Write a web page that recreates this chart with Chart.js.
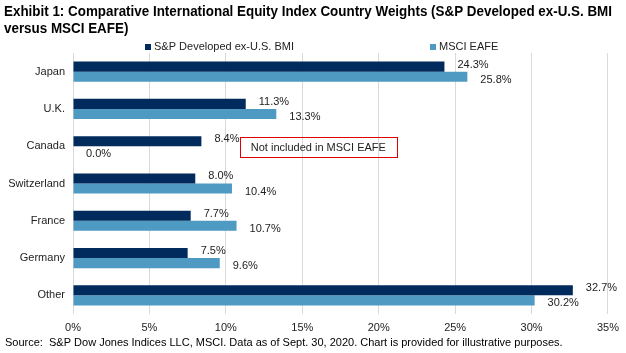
<!DOCTYPE html>
<html>
<head>
<meta charset="utf-8">
<script src="https://cdn.jsdelivr.net/npm/chart.js@4"></script>
<style>
  html, body { margin: 0; padding: 0; background: #fff; }
  #wrap { width: 626px; height: 353px; position: relative; }
</style>
</head>
<body>
<div id="wrap"><canvas id="myChart" width="626" height="353"></canvas></div>
<script>
const countries = ["Japan", "U.K.", "Canada", "Switzerland", "France", "Germany", "Other"];
const spBmi = [24.3, 11.3, 8.4, 8.0, 7.7, 7.5, 32.7];
const msciEafe = [25.8, 13.3, 0.0, 10.4, 10.7, 9.6, 30.2];
const seriesNames = ["S&P Developed ex-U.S. BMI", "MSCI EAFE"];
const xTicks = [0, 5, 10, 15, 20, 25, 30, 35];

const titleLines = [
  "Exhibit 1: Comparative International Equity Index Country Weights (S&P Developed ex-U.S. BMI",
  "versus MSCI EAFE)"
];
const sourceText = "Source:  S&P Dow Jones Indices LLC, MSCI. Data as of Sept. 30, 2020. Chart is provided for illustrative purposes.";
const noteText = "Not included in MSCI EAFE";

const FONT = "Arial, 'Liberation Sans', sans-serif";
const DARK = "#002b5c";
const LIGHT = "#4f9ac3";

// draws text squeezed to a given width (the original uses a narrow face)
function fitText(ctx, text, x, y, width) {
  const w = ctx.measureText(text).width;
  const s = width ? Math.min(1, width / w) : 1;
  ctx.save();
  ctx.translate(x, y);
  ctx.scale(s, 1);
  ctx.fillText(text, 0, 0);
  ctx.restore();
}

const decorations = {
  id: "decorations",
  afterDraw(chart) {
    const ctx = chart.ctx;
    const x = chart.scales.x;
    const y = chart.scales.y;
    ctx.save();

    // title
    ctx.fillStyle = "#000";
    ctx.textBaseline = "alphabetic";
    ctx.font = "bold 14px " + FONT;
    const scaleW = 608 / ctx.measureText(titleLines[0]).width;
    fitText(ctx, titleLines[0], 4, 16, 608);
    fitText(ctx, titleLines[1], 4, 33, ctx.measureText(titleLines[1]).width * scaleW);

    // legend
    ctx.font = "11px " + FONT;
    ctx.textBaseline = "middle";
    const legendX = [145, 430];
    chart.data.datasets.forEach((ds, i) => {
      ctx.fillStyle = ds.backgroundColor;
      ctx.fillRect(legendX[i], 44, 6, 6);
      ctx.fillStyle = "#222";
      ctx.fillText(ds.label, legendX[i] + 9, 47);
    });

    // value labels
    ctx.font = "11px " + FONT;
    ctx.textBaseline = "middle";
    ctx.fillStyle = "#222";
    chart.data.datasets.forEach((ds, i) => {
      const meta = chart.getDatasetMeta(i);
      meta.data.forEach((bar, j) => {
        const dy = i === 0 ? -2 : 3;
        ctx.fillText(ds.data[j].toFixed(1) + "%", bar.x + 13, bar.y + dy);
      });
    });

    // note box for Canada
    const cy = y.getPixelForValue(2);
    const x0 = x.getPixelForValue(10.9);
    const x1 = x.getPixelForValue(21.2);
    ctx.strokeStyle = "#e00000";
    ctx.lineWidth = 1;
    ctx.strokeRect(Math.round(x0) + 0.5, Math.round(cy - 9) + 0.5, Math.round(x1 - x0), 20);
    ctx.fillStyle = "#222";
    ctx.textAlign = "center";
    ctx.fillText(noteText, (x0 + x1) / 2, cy + 1.5);

    // source
    ctx.textAlign = "left";
    ctx.fillStyle = "#000";
    ctx.font = "11px " + FONT;
    fitText(ctx, sourceText, 5, 343, 600);
    ctx.restore();
  }
};

const ctx = document.getElementById("myChart");
new Chart(ctx, {
  type: "bar",
  data: {
    labels: countries,
    datasets: [
      {
        label: seriesNames[0],
        data: spBmi,
        backgroundColor: DARK,
        categoryPercentage: 0.54,
        barPercentage: 1.0,
      },
      {
        label: seriesNames[1],
        data: msciEafe,
        backgroundColor: LIGHT,
        categoryPercentage: 0.54,
        barPercentage: 1.0,
      },
    ],
  },
  options: {
    indexAxis: "y",
    responsive: false,
    animation: false,
    layout: { padding: { top: 53, right: 17, left: 0, bottom: 0 } },
    plugins: {
      legend: { display: false },
      title: { display: false },
      tooltip: { enabled: false },
    },
    scales: {
      x: {
        min: 0,
        max: 35,
        afterBuildTicks: (axis) => {
          axis.ticks = xTicks.map((v) => ({ value: v }));
        },
        afterFit: (axis) => {
          axis.height = 39;
        },
        grid: { color: "#d9d9d9", drawTicks: false },
        border: { display: false },
        ticks: {
          padding: 7,
          color: "#222",
          font: { family: FONT, size: 11 },
          callback: (v) => v + "%",
        },
      },
      y: {
        afterFit: (axis) => {
          axis.width = 73;
        },
        grid: { display: false, drawTicks: false },
        border: { display: false },
        ticks: {
          padding: 8,
          color: "#222",
          font: { family: FONT, size: 11 },
        },
      },
    },
  },
  plugins: [decorations],
});
</script>
</body>
</html>
